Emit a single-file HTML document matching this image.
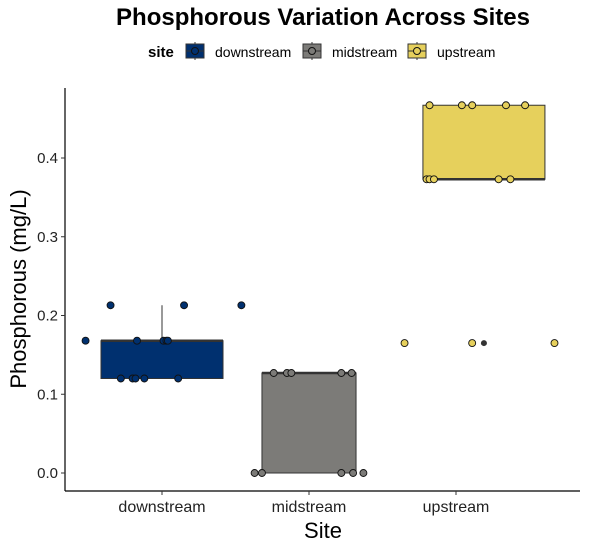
<!DOCTYPE html>
<html><head><meta charset="utf-8"><style>
body{margin:0;background:#fff}
svg{font-family:"Liberation Sans",sans-serif}
</style></head><body>
<svg id="c" width="589" height="551" xmlns="http://www.w3.org/2000/svg">
<text x="323" y="25" text-anchor="middle" font-size="24" font-weight="bold">Phosphorous Variation Across Sites</text>
<g id="legend">
<text x="148" y="57" font-size="15" font-weight="bold">site</text>
</g>
<g id="plot"></g>
<text x="323" y="538" text-anchor="middle" font-size="22">Site</text>
<text transform="translate(26,289) rotate(-90)" text-anchor="middle" font-size="22">Phosphorous (mg/L)</text>
</svg>
<script>
const categories=["downstream","midstream","upstream"];
const colors=["#00306f","#7c7b78","#e6d05c"];
const q1=[0.12,0.0,0.373];
const median=[0.168,0.127,0.373];
const q3=[0.168,0.127,0.467];
const whiskerHi=[0.213,0.127,0.467];
const whiskerLo=[0.12,0.0,0.373];
const boxWidth=[0.83,0.64,0.83];
const boxShift=[0,0,0.19];
const outliers=[[],[],[0.165]];
const outlierJitter=[[],[],[0.19]];
const ptCat=[0,0,0,0,0,0,0,0,0,0,0,0,0, 1,1,1,1,1,1,1,1,1,1, 2,2,2,2,2,2,2,2,2,2,2,2,2];
const ptVal=[0.213,0.213,0.213,0.168,0.168,0.168,0.168,0.168,0.12,0.12,0.12,0.12,0.12,
 0.127,0.127,0.127,0.127,0.127,0,0,0,0,0,
 0.467,0.467,0.467,0.467,0.467,0.373,0.373,0.373,0.373,0.373,0.165,0.165,0.165];
const ptJitter=[-0.35,0.15,0.54,-0.52,-0.17,0.01,0.03,0.04,-0.28,-0.2,-0.18,-0.12,0.11,
 -0.24,-0.15,-0.12,0.22,0.29,-0.37,-0.32,0.22,0.3,0.37,
 -0.18,0.04,0.11,0.34,0.47,-0.2,-0.18,-0.15,0.29,0.37,-0.35,0.11,0.67];
const yTicks=[0,0.1,0.2,0.3,0.4];
const NS="http://www.w3.org/2000/svg";
const x=i=>162+i*147, bw=147;
const y=v=>473-v*787.5;
const plot=document.getElementById('plot');
function mk(tag,at,parent){const e=document.createElementNS(NS,tag);for(const k in at)e.setAttribute(k,at[k]);(parent||plot).appendChild(e);return e;}
let e=mk('line',{x1:65,y1:88,x2:65,y2:491,stroke:'#000','stroke-width':1.2});


e=mk('line',{x1:65,y1:491,x2:580,y2:491,stroke:'#000','stroke-width':1.2});


yTicks.forEach(t=>{
 e=mk('line',{x1:61,x2:65,y1:y(t),y2:y(t),stroke:'#333'});
 
 
 e=mk('text',{x:58,y:y(t)+5,'text-anchor':'end','font-size':15,fill:'#222'});
 e.textContent=t.toFixed(1);
 
 
});
categories.forEach((c,i)=>{
 e=mk('line',{x1:x(i),x2:x(i),y1:491,y2:495,stroke:'#333'});
 
 
 e=mk('text',{x:x(i),y:512,'text-anchor':'middle','font-size':16,fill:'#222'});
 e.textContent=c;
 
 
});
categories.forEach((c,i)=>{
 const hw=boxWidth[i]*bw/2, cx=x(i)+boxShift[i]*bw;
 e=mk('line',{x1:cx,x2:cx,y1:y(whiskerHi[i]),y2:y(q3[i]),stroke:'#333'});
 
 
 e=mk('line',{x1:cx,x2:cx,y1:y(whiskerLo[i]),y2:y(q1[i]),stroke:'#333'});
 
 
 e=mk('rect',{x:cx-hw,y:y(q3[i]),width:2*hw,height:Math.max(1,y(q1[i])-y(q3[i])),fill:colors[i],stroke:'#333','stroke-width':1});
 
 
 e=mk('line',{x1:cx-hw,x2:cx+hw,y1:y(median[i]),y2:y(median[i]),stroke:'#333','stroke-width':2.5});
 
 
 outliers[i].forEach((v,k)=>{
  e=mk('circle',{cx:x(i)+outlierJitter[i][k]*bw,cy:y(v),r:3,fill:'#333'});
  
  
 });
});
ptVal.forEach((v,k)=>{
 const i=ptCat[k];
 e=mk('circle',{cx:x(i)+ptJitter[k]*bw,cy:y(v),r:3.5,fill:colors[i],stroke:'#111','stroke-width':0.9});
 
 
});
const lg=document.getElementById('legend');
const keyX=[186,303,408];
categories.forEach((c,i)=>{
 const g=mk('g',{},lg);
 
 
 mk('line',{x1:keyX[i]+9,x2:keyX[i]+9,y1:42,y2:60,stroke:'#333'},g);
 mk('rect',{x:keyX[i],y:44,width:18,height:14,fill:colors[i],stroke:'#333'},g);
 mk('line',{x1:keyX[i],x2:keyX[i]+18,y1:51,y2:51,stroke:'#333'},g);
 mk('circle',{cx:keyX[i]+9,cy:51,r:3.5,fill:colors[i],stroke:'#111'},g);
 const t=mk('text',{x:keyX[i]+29,y:57,'font-size':14},g);
 t.textContent=c;
});
</script>
</body></html>
